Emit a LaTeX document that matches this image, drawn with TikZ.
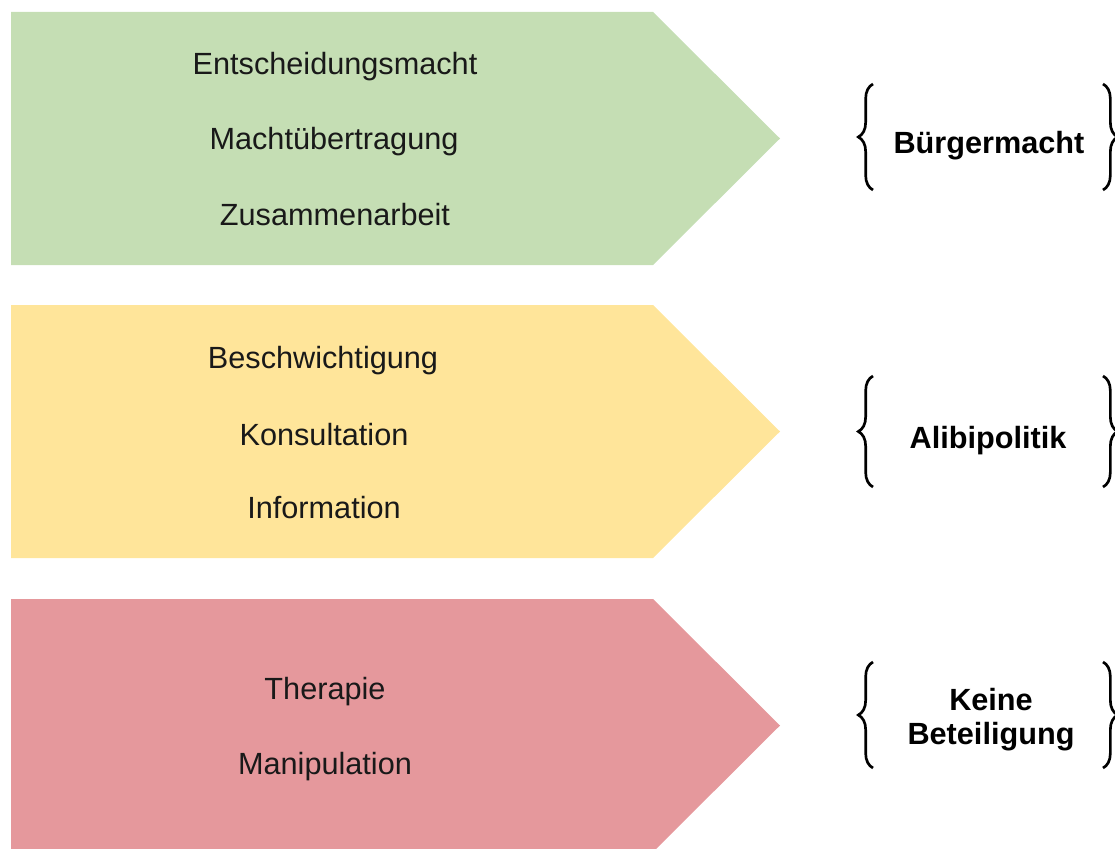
\documentclass[tikz,border=0pt]{standalone}
\usepackage{fontspec}
\usepackage{tikz}
\usetikzlibrary{decorations.pathreplacing}
\setmainfont{Liberation Sans}
\definecolor{bandgreen}{HTML}{C5DEB4}
\definecolor{bandyellow}{HTML}{FFE59A}
\definecolor{bandred}{HTML}{E5989C}
\tikzset{
  rung/.style={anchor=base, inner sep=0pt, text=black!90, font=\fontsize{23}{25.5}\selectfont},
  level/.style={inner sep=0pt, align=center, font=\fontsize{23}{25.5}\selectfont\bfseries},
  curly/.style={decorate, decoration={brace, amplitude=11pt}, line width=2pt}
}

\begin{document}
\begin{tikzpicture}[x=0.75pt, y=-0.75pt]
\useasboundingbox (0,0) rectangle (1115,849);

% Define the arrow shaped bands
\fill[bandgreen] (11,12) -- (653,12) -- (780,138.5) -- (653,265) -- (11,265) -- cycle;
\fill[bandyellow] (11,305) -- (653,305) -- (780,431.5) -- (653,558) -- (11,558) -- cycle;
\fill[bandred] (11,599) -- (653,599) -- (780,725.5) -- (653,852) -- (11,852) -- cycle;

% Add the rungs inside the bands
\node[rung] (entscheidung) at (335,75) {Entscheidungsmacht};
\node[rung] (uebertragung) at (334,150) {Machtübertragung};
\node[rung] (zusammen) at (335,225) {Zusammenarbeit};

\node[rung] (beschwicht) at (323,368) {Beschwichtigung};
\node[rung] (konsult) at (324,445) {Konsultation};
\node[rung] (info) at (324,518) {Information};

\node[rung] (therapie) at (325,699) {Therapie};
\node[rung] (manipul) at (325,774) {Manipulation};

% Add the levels on the right between braces
\node[level, anchor=base] (buerger) at (989,153) {Bürgermacht};
\node[level, anchor=base] (alibi) at (988,448) {Alibipolitik};
\node[level] (keine) at (991,720) {Keine\\Beteiligung};

\draw[curly] (873,190) -- (873,84);
\draw[curly] (1103,84) -- (1103,190);
\draw[curly] (873,487) -- (873,376);
\draw[curly] (1103,376) -- (1103,487);
\draw[curly] (873,768) -- (873,662);
\draw[curly] (1103,662) -- (1103,768);
\end{tikzpicture}
\end{document}
